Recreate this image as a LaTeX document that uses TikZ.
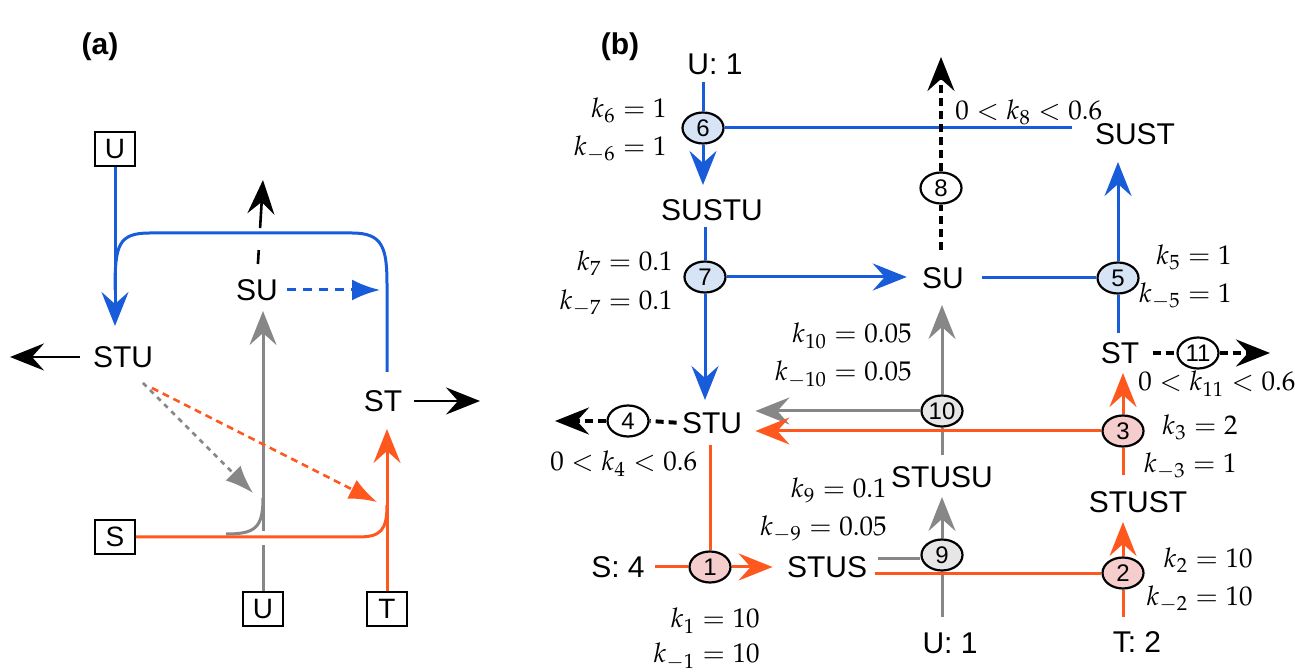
\documentclass[tikz,border=0pt]{standalone}
\usepackage{mathpazo}
\usepackage[no-math]{fontspec}
\newfontfamily\lsans{Liberation Sans}
\usetikzlibrary{arrows.meta,shapes.geometric,calc}
\definecolor{bl}{RGB}{24,92,218}
\definecolor{og}{RGB}{255,88,30}
\definecolor{gr}{RGB}{135,135,135}
\definecolor{fblue}{RGB}{214,228,246}
\definecolor{fpink}{RGB}{246,205,205}
\definecolor{fgrey}{RGB}{230,230,230}
\tikzset{
  lbl/.style={font=\lsans\fontsize{15}{18}\selectfont, inner sep=0pt},
  plbl/.style={font=\lsans\bfseries\fontsize{15}{18}\selectfont, inner sep=0pt},
  boxn/.style={draw, line width=1.1pt, font=\lsans\fontsize{14}{16}\selectfont,
    inner sep=0pt, minimum width=20pt, minimum height=17pt},
  rxn/.style={ellipse, draw, line width=1.1pt, inner sep=0pt, minimum width=20.5pt,
    minimum height=15.5pt, font=\lsans\fontsize{12}{14}\selectfont},
  rb/.style={rxn, fill=fblue},
  ro/.style={rxn, fill=fpink},
  rg/.style={rxn, fill=fgrey},
  rw/.style={rxn, fill=white},
  kl/.style={inner sep=0pt, font=\fontsize{13.5}{16}\selectfont},
  bline/.style={draw=bl, line width=1.5pt},
  oline/.style={draw=og, line width=1.5pt},
  gline/.style={draw=gr, line width=1.5pt},
  kline/.style={draw=black, line width=2pt, dash pattern=on 4pt off 2.5pt},
  bighead/.tip={Stealth[length=17pt,width=13.5pt,inset=6pt]},
  tri/.tip={Latex[length=14pt,width=10.5pt]},
}
\begin{document}
\begin{tikzpicture}[x=0.5pt,y=-0.5pt]
\useasboundingbox (0,0) rectangle (1295,672);
\fill[white] (0,0) rectangle (1295,672);

% ---------------- panel (a): reaction scheme ----------------
\node[plbl] (la) at (100,47) {(a)};
\node[boxn] (aU) at (115,149) {U};
\node[lbl] (aSTU) at (123,357) {STU};
\node[lbl] (aSU) at (257,290) {SU};
\node[lbl] (aST) at (383,401) {ST};
\node[boxn] (aS) at (115,537) {S};
\node[boxn] (aUb) at (263,609) {U};
\node[boxn] (aT) at (387,609) {T};
\coordinate (aL) at (10,357);
\coordinate (aR) at (480,401);
\coordinate (aUp) at (263,180);
\coordinate (aBtip) at (380,290);
\coordinate (aBr) at (115,290);
\coordinate (aBe) at (387,372);
\coordinate (aGb) at (263,531);
\coordinate (aGc) at (226,534);
\coordinate (aD1) at (143,383);
\coordinate (aD2) at (152,388);
\coordinate (aGtip) at (253,493);
\coordinate (aOtip) at (377,502);

% U binds: blue
\draw[bline,-{bighead},shorten >=10pt] (aU.south) -- (aU.south |- aSTU.north);
\draw[bline] (aBr) .. controls (115,245) and (118,233) .. (150,233) -- (352,233)
  .. controls (383,233) and (387,248) .. (387,285) -- (aBe);
\draw[bline,dash pattern=on 4.5pt off 3.5pt,-{tri},shorten <=4.5pt] (aSU.east) -- (aBtip);

% outflows: black
\draw[line width=1.3pt,dash pattern=on 7pt off 11pt on 80pt,-{bighead},shorten <=7.5pt] (aSU.north) -- (aUp);
\draw[line width=1.3pt,-{bighead},shorten <=6.5pt] (aSTU.west) -- (aL);
\draw[line width=1.3pt,-{bighead},shorten <=5.5pt] (aST.east) -- (aR);

% grey branch
\draw[gline] (aUb.north) -- ++(0,-46);
\draw[gline,-{bighead},shorten >=5pt] (aGb) -- (aGb |- aSU.south);
\draw[gline] (aGc) .. controls (255,534) and (263,528) .. (263,498);

% orange branch
\draw[oline] (aS.east) -- (358,537) .. controls (381,537) and (387,530) .. (387,505);
\draw[oline,-{bighead},shorten >=8.5pt] (aT.north) -- (aT.north |- aST.south);

% dashed influences
\draw[gline,line width=1.3pt,dash pattern=on 2.5pt off 2.5pt,-{tri}] (aD1) -- (aGtip);
\draw[oline,line width=1.3pt,dash pattern=on 3.5pt off 2.5pt,-{tri}] (aD2) -- (aOtip);

% ---------------- panel (b): reaction network ----------------
\node[plbl] (lb) at (620,47) {(b)};
\node[lbl] (bU1) at (715,64) {U: 1};
\node[rb] (c6) at (703,128) {6};
\node[lbl] (bSUSTU) at (712,210) {SUSTU};
\node[rb] (c7) at (705,277) {7};
\node[lbl] (bSTU) at (712,423) {STU};
\node[rw] (c4) at (628,421) {4};
\node[ro] (c1) at (710,567) {1};
\node[lbl] (bS4) at (618,567) {S: 4};
\node[lbl] (bSTUS) at (827,567) {STUS};
\node[rg] (c9) at (942,555) {9};
\node[lbl] (bSTUSU) at (942,477) {STUSU};
\node[rg] (c10) at (942,411) {10};
\node[lbl] (bSU) at (943,278) {SU};
\node[rw] (c8) at (941,188) {8};
\node[lbl] (bSUST) at (1135,134) {SUST};
\node[rb] (c5) at (1118,278) {5};
\node[lbl] (bST) at (1120,353) {ST};
\node[rw] (c11) at (1198,353) {11};
\node[ro] (c3) at (1123,431) {3};
\node[lbl] (bSTUST) at (1138,502) {STUST};
\node[ro] (c2) at (1123,573) {2};
\node[lbl] (bT2) at (1137,642) {T: 2};
\node[lbl] (bU1b) at (950,643) {U: 1};
\coordinate (o4) at (555,421);
\coordinate (o8) at (941,57);
\coordinate (o11) at (1270,353);
\coordinate (g9) at ($(bSTUS.east)+(11,-8)$);
\coordinate (r9) at ($(bSTUS.east)+(8,7)$);

% rate constants
\node[kl,anchor=base east] (k6) at (667,118) {$k_6 = 1$};
\node[kl,anchor=base east] (km6) at (667,156) {$k_{-6} = 1$};
\node[kl,anchor=base east] (k7) at (673,271) {$k_7 = 0.1$};
\node[kl,anchor=base east] (km7) at (673,310) {$k_{-7} = 0.1$};
\node[kl,anchor=base east] (k10) at (912,343) {$k_{10} = 0.05$};
\node[kl,anchor=base east] (km10) at (912,381) {$k_{-10} = 0.05$};
\node[kl,anchor=base east] (k9) at (887,498) {$k_9 = 0.1$};
\node[kl,anchor=base east] (km9) at (887,536) {$k_{-9} = 0.05$};
\node[kl,anchor=base east] (k1) at (760,628) {$k_1 = 10$};
\node[kl,anchor=base east] (km1) at (760,663) {$k_{-1} = 10$};
\node[kl,anchor=base east] (k5) at (1232,265) {$k_5 = 1$};
\node[kl,anchor=base east] (km5) at (1232,303) {$k_{-5} = 1$};
\node[kl,anchor=base east] (k3) at (1238,435) {$k_3 = 2$};
\node[kl,anchor=base east] (km3) at (1237,473) {$k_{-3} = 1$};
\node[kl,anchor=base east] (k2) at (1253,568) {$k_2 = 10$};
\node[kl,anchor=base east] (km2) at (1253,606) {$k_{-2} = 10$};
\node[kl,anchor=base west] (k8) at (955,120) {$0 < k_8 < 0.6$};
\node[kl,anchor=base west] (k4) at (550,471) {$0 < k_4 < 0.6$};
\node[kl,anchor=base west] (k11) at (1138,391) {$0 < k_{11} < 0.6$};

% blue reactions 5, 6, 7
\draw[bline,shorten <=3.5pt] (bU1.south -| c6) -- (c6.north);
\draw[bline,-{bighead},shorten >=7pt] (c6.south) -- (c6.south |- bSUSTU.north);
\draw[bline,shorten >=11.5pt] (c6.east) -- (c6.east -| bSUST.west);
\draw[bline,shorten <=3pt] (c7.north |- bSUSTU.south) -- (c7.north);
\draw[bline,-{bighead},shorten >=7.5pt] (c7.east) -- (c7.east -| bSU.west);
\draw[bline,-{bighead},shorten >=6pt] (c7.south) -- (c7.south |- bSTU.north);
\draw[bline,shorten <=9pt] (bSU.east |- c5) -- (c5.west);
\draw[bline,-{bighead},shorten >=8.5pt] (c5.north) -- (c5.north |- bSUST.south);
\draw[bline,shorten >=4.5pt] (c5.south) -- (c5.south |- bST.north);

% grey reactions 9, 10
\draw[gline,shorten <=7.5pt] (bU1b.north -| c9) -- (c9.south);
\draw[gline,-{bighead},shorten >=4.5pt] (c9.north) -- (c9.north |- bSTUSU.south);
\draw[gline,shorten <=5.5pt] (c10 |- bSTUSU.north) -- (c10.south);
\draw[gline,-{bighead},shorten >=8pt] (c10.north) -- (c10.north |- bSU.south);
\draw[gline,-{bighead},shorten >=6.5pt] (c10.west) -- (c10.west -| bSTU.east);
\draw[gline] (g9) -- (g9 -| c9.west);

% orange reactions 1, 2, 3
\draw[oline,shorten <=5pt] (bS4.east) -- (c1.west);
\draw[oline,-{bighead},shorten >=7pt] (c1.east) -- (bSTUS.west);
\draw[oline,shorten <=5.5pt] (c1.north |- bSTU.south) -- (c1.north);
\draw[oline] (r9) -- (r9 -| c2.west);
\draw[oline,shorten <=7pt] (bT2.north -| c2) -- (c2.south);
\draw[oline,-{bighead},shorten >=4.5pt] (c2.north) -- (c2.north |- bSTUST.south);
\draw[oline,shorten <=8pt] (c3 |- bSTUST.north) -- (c3.south);
\draw[oline,-{bighead},shorten >=4.5pt] (c3.north) -- (c3.north |- bST.south);
\draw[oline,-{bighead},shorten >=6.5pt] (c3.west) -- (c3.west -| bSTU.east);

% black outflows 4, 8, 11
\draw[kline,shorten <=8.5pt] (c8 |- bSU.north) -- (c8.south);
\draw[kline,-{bighead}] (c8.north) -- (o8);
\draw[kline,shorten <=2.5pt] (bSTU.west) -- (c4.east);
\draw[kline,-{bighead}] (c4.west) -- (o4);
\draw[kline,shorten <=6.5pt] (bST.east) -- (c11.west);
\draw[kline,-{bighead}] (c11.east) -- (o11);
\end{tikzpicture}
\end{document}
